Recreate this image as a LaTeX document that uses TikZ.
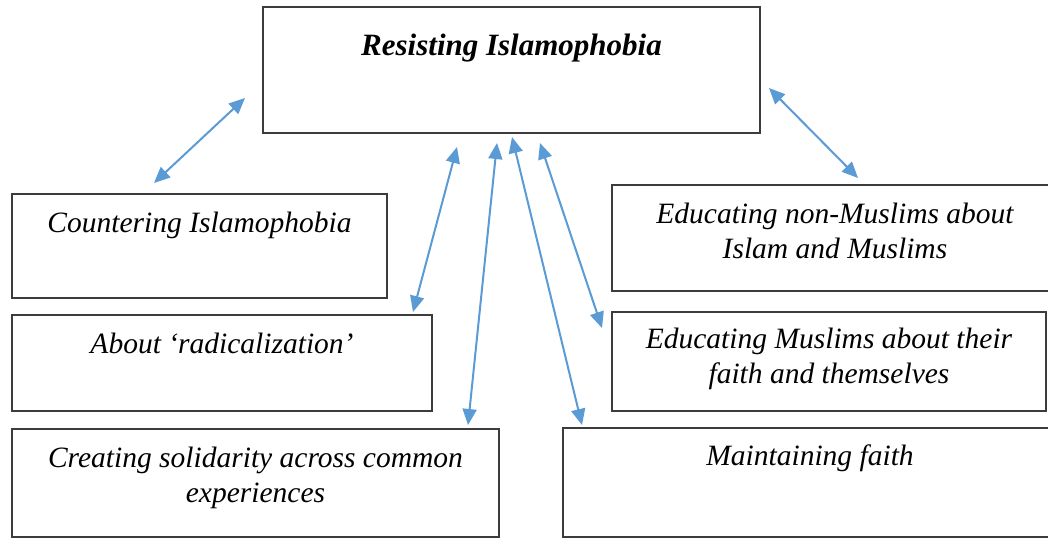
\documentclass[tikz,border=0pt]{standalone}
\usepackage{fontspec}
\setmainfont{Liberation Serif}
\usetikzlibrary{arrows.meta}
\definecolor{linkblue}{RGB}{91,155,213}
\definecolor{edge}{RGB}{60,60,60}
\begin{document}
\begin{tikzpicture}[x=1pt,y=-1pt,
  box/.style={draw=edge,line width=1.6pt,fill=white,inner sep=0pt,rectangle},
  label/.style={anchor=base,align=center,inner sep=0pt,
    font=\fontsize{29.5}{35}\selectfont\itshape},
  heading/.style={anchor=base,inner sep=0pt,
    font=\fontsize{31}{36}\selectfont\bfseries\itshape},
  link/.style={draw=linkblue,line width=2pt,
    {Triangle[length=16pt,width=14pt]}-{Triangle[length=16pt,width=14pt]}}]
\useasboundingbox (0,0) rectangle (1048,539);
\clip (0,0) rectangle (1048,539);
\fill[white] (0,0) rectangle (1048,539);

% boxes
\node[box,minimum width=497,minimum height=126] (top) at (511.5,70) {};
\node[box,minimum width=375,minimum height=104] (counter) at (199.5,246) {};
\node[box,minimum width=420,minimum height=96] (radical) at (222,363) {};
\node[box,minimum width=487,minimum height=108] (solid) at (255.5,483) {};
\node[box,minimum width=446,minimum height=106] (eduNon) at (835,238) {};
\node[box,minimum width=434,minimum height=99] (eduMus) at (829,361.5) {};
\node[box,minimum width=494,minimum height=109] (faith) at (810,482.5) {};

% texts (for two-line labels the base anchor sits on the last line)
\node[heading] (topT) at (511.5,55) {Resisting Islamophobia};
\node[label] (counterT) at (199.5,232) {Countering Islamophobia};
\node[label] (radicalT) at (222,353) {About ‘radicalization’};
\node[label] (solidT) at (255.5,502) {Creating solidarity across common\\experiences};
\node[label] (eduNonT) at (835,258) {Educating non-Muslims about\\Islam and Muslims};
\node[label] (eduMusT) at (829,383) {Educating Muslims about their\\faith and themselves};
\node[label] (faithT) at (810,465) {Maintaining faith};

% arrow end points
\coordinate (c1) at (245,98);   \coordinate (c2) at (154,183);
\coordinate (r1) at (457,147);  \coordinate (r2) at (413,312);
\coordinate (s1) at (497,143);  \coordinate (s2) at (468,425);
\coordinate (f1) at (512,137);  \coordinate (f2) at (582,425);
\coordinate (m1) at (540,143);  \coordinate (m2) at (602,328);
\coordinate (n1) at (769,88);   \coordinate (n2) at (858,178);

% connectors
\draw[link] (c1) -- (c2);
\draw[link] (r1) -- (r2);
\draw[link] (s1) -- (s2);
\draw[link] (f1) -- (f2);
\draw[link] (m1) -- (m2);
\draw[link] (n1) -- (n2);
\end{tikzpicture}
\end{document}
